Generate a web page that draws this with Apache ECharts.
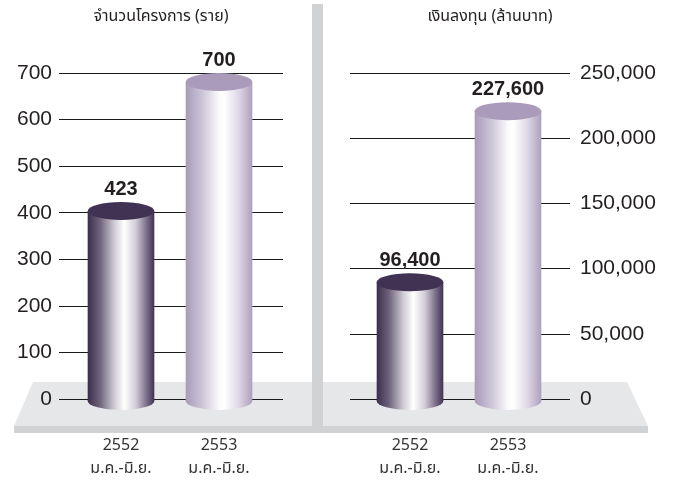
<!DOCTYPE html>
<html>
<head>
<meta charset="utf-8">
<script src="https://cdn.jsdelivr.net/npm/echarts@6/dist/echarts.min.js"></script>
<style>
html,body{margin:0;padding:0;background:#fff;}
#chart{width:674px;height:484px;}
</style>
</head>
<body>
<div id="chart"></div>
<script>
// ---- data ----
const categories = ['2552\nม.ค.-มิ.ย.', '2553\nม.ค.-มิ.ย.'];
const projects = [423, 700];          // จำนวนโครงการ (ราย)
const investment = [96400, 227600];   // เงินลงทุน (ล้านบาท)
const leftTitle = 'จำนวนโครงการ (ราย)';
const rightTitle = 'เงินลงทุน (ล้านบาท)';
const leftAxis = {min: 0, max: 700, interval: 100};
const rightAxis = {min: 0, max: 250000, interval: 50000};

// ---- styling ----
const NUM_FONT = '"Liberation Sans", Arial, Helvetica, sans-serif';
const THAI_FONT = '"Noto Sans Thai", "Noto Sans", "Liberation Sans", sans-serif';
const G = echarts.graphic;
const bodyGrad = [
  new G.LinearGradient(0, 0, 1, 0, [
    {offset: 0, color: '#3b2e4d'},
    {offset: 0.18, color: '#6c6179'},
    {offset: 0.4, color: '#cfcbd5'},
    {offset: 0.55, color: '#ffffff'},
    {offset: 0.72, color: '#d2ced8'},
    {offset: 0.88, color: '#7d718b'},
    {offset: 1, color: '#3f3252'}
  ]),
  new G.LinearGradient(0, 0, 1, 0, [
    {offset: 0, color: '#a89bb9'},
    {offset: 0.25, color: '#cdc5d8'},
    {offset: 0.5, color: '#fbfafd'},
    {offset: 0.58, color: '#ffffff'},
    {offset: 0.8, color: '#ddd6e5'},
    {offset: 1, color: '#ac9fbd'}
  ])
];
const topColor = ['#3f3252', '#a99bb9'];

function fmt(v) { return Number(v).toLocaleString('en-US'); }

function cylinder(params, api) {
  const idx = params.dataIndex;
  const cat = api.value(0);
  const val = api.value(1);
  const base = api.coord([cat, 0]);
  const top = api.coord([cat, val]);
  const band = api.size([1, 0])[0];
  const bw = band * 0.68;
  const rx = bw / 2;
  const ry = 9;
  const x = base[0];
  const yTopC = top[1] + ry;
  const yBotC = base[1] + 2;
  return {
    type: 'group',
    children: [
      {
        type: 'circle',
        x: x, y: yBotC, scaleY: ry / rx,
        shape: {cx: 0, cy: 0, r: rx},
        style: {fill: bodyGrad[idx]}
      },
      {
        type: 'rect',
        shape: {x: x - rx, y: yTopC, width: bw, height: yBotC - yTopC},
        style: {fill: bodyGrad[idx]}
      },
      {
        type: 'circle',
        x: x, y: yTopC, scaleY: ry / rx,
        shape: {cx: 0, cy: 0, r: rx},
        style: {fill: topColor[idx]}
      },
      {
        type: 'text',
        x: x, y: top[1] - 13,
        style: {
          text: fmt(val),
          fill: '#231f20',
          font: 'bold 20px ' + NUM_FONT,
          align: 'center',
          verticalAlign: 'middle'
        }
      }
    ]
  };
}

const hiddenAxis = {show: false};
const yLabelStyle = {color: '#231f20', fontSize: 21, fontFamily: NUM_FONT};
const splitLine = {show: true, lineStyle: {color: '#1a1a1a', width: 1, type: 'solid'}};
const xLabel = {
  color: '#333', fontSize: 16, fontFamily: THAI_FONT, lineHeight: 23, margin: 36, interval: 0
};

const chart = echarts.init(document.getElementById('chart'), null, {renderer: 'canvas'});
chart.setOption({
  animation: false,
  backgroundColor: '#ffffff',
  graphic: [
    {
      type: 'polygon', z: -20, silent: true,
      shape: {points: [[33, 382], [627, 382], [648, 426], [14, 426]]},
      style: {fill: '#e6e7e8'}
    },
    {
      type: 'rect', z: -20, silent: true,
      shape: {x: 14, y: 426, width: 634, height: 7},
      style: {fill: '#d1d2d4'}
    },
    {
      type: 'rect', z: -19, silent: true,
      shape: {x: 312, y: 4, width: 11, height: 427},
      style: {fill: '#d1d2d4'}
    },
    {
      type: 'text', x: 161, y: 18, silent: true,
      style: {text: leftTitle, fill: '#231f20', font: '16px ' + THAI_FONT, align: 'center', verticalAlign: 'middle'}
    },
    {
      type: 'text', x: 490, y: 18, silent: true,
      style: {text: rightTitle, fill: '#231f20', font: '16px ' + THAI_FONT, align: 'center', verticalAlign: 'middle'}
    }
  ],
  grid: [
    {left: 59, width: 224, top: 73, bottom: 85, containLabel: false},
    {left: 72, width: 196, top: 73, bottom: 85, containLabel: false},
    {left: 350, width: 220, top: 73, bottom: 85, containLabel: false},
    {left: 361, width: 196, top: 73, bottom: 85, containLabel: false}
  ],
  xAxis: [
    {type: 'category', gridIndex: 0, data: categories, show: false},
    {type: 'category', gridIndex: 1, data: categories,
      axisLine: {show: false}, axisTick: {show: false}, axisLabel: xLabel, splitLine: {show: false}},
    {type: 'category', gridIndex: 2, data: categories, show: false},
    {type: 'category', gridIndex: 3, data: categories,
      axisLine: {show: false}, axisTick: {show: false}, axisLabel: xLabel, splitLine: {show: false}}
  ],
  yAxis: [
    {type: 'value', gridIndex: 0, position: 'left', min: leftAxis.min, max: leftAxis.max, interval: leftAxis.interval,
      axisLine: {show: false}, axisTick: {show: false}, splitLine: splitLine,
      axisLabel: Object.assign({margin: 7}, yLabelStyle)},
    {type: 'value', gridIndex: 1, min: leftAxis.min, max: leftAxis.max, interval: leftAxis.interval, show: false, splitLine: {show: false}},
    {type: 'value', gridIndex: 2, position: 'right', min: rightAxis.min, max: rightAxis.max, interval: rightAxis.interval,
      axisLine: {show: false}, axisTick: {show: false}, splitLine: splitLine,
      axisLabel: Object.assign({margin: 10, formatter: v => fmt(v)}, yLabelStyle)},
    {type: 'value', gridIndex: 3, min: rightAxis.min, max: rightAxis.max, interval: rightAxis.interval, show: false, splitLine: {show: false}}
  ],
  series: [
    {type: 'custom', xAxisIndex: 1, yAxisIndex: 1, renderItem: cylinder,
      data: projects.map((v, i) => [i, v]), clip: false},
    {type: 'custom', xAxisIndex: 3, yAxisIndex: 3, renderItem: cylinder,
      data: investment.map((v, i) => [i, v]), clip: false}
  ]
});
</script>
</body>
</html>
